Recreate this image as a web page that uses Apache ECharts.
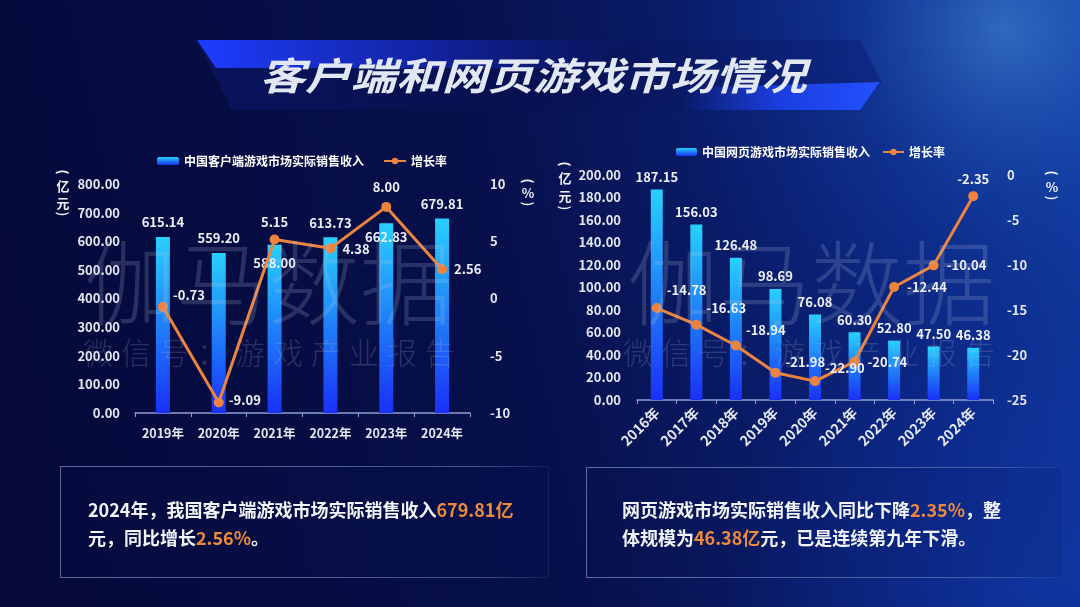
<!DOCTYPE html>
<html><head><meta charset="utf-8">
<script src="https://cdn.jsdelivr.net/npm/echarts@6/dist/echarts.min.js"></script>
<style>html,body{margin:0;padding:0;background:#050a3c;}#c{width:1080px;height:607px;}</style>
</head><body><div id="c"></div>
<script>
// ---- data ----
const clientYears = ['2019年','2020年','2021年','2022年','2023年','2024年'];
const clientRevenue = [615.14, 559.20, 588.00, 613.73, 662.83, 679.81];
const clientGrowth = [-0.73, -9.09, 5.15, 4.38, 8.00, 2.56];
const webYears = ['2016年','2017年','2018年','2019年','2020年','2021年','2022年','2023年','2024年'];
const webRevenue = [187.15, 156.03, 126.48, 98.69, 76.08, 60.30, 52.80, 47.50, 46.38];
const webGrowth = [-14.78, -16.63, -18.94, -21.98, -22.90, -20.74, -12.44, -10.04, -2.35];
const clientBarName = '中国客户端游戏市场实际销售收入';
const webBarName = '中国网页游戏市场实际销售收入';
const growthName = '增长率';

// ---- styles ----
const FONT = '"Noto Sans CJK SC","Noto Sans",sans-serif';
const ORANGE = '#ec8440';
const WHITE = '#eef1fa';
const barGrad = () => new echarts.graphic.LinearGradient(0,0,0,1,[
  {offset:0,color:'#29d0fd'},{offset:0.5,color:'#1f80f8'},{offset:1,color:'#1a30f8'}]);
const lbl = {color: WHITE, fontWeight:'bold', fontSize:13, fontFamily:FONT};

// label placement (style, not data)
const clientBarLbl = [{position:'top',distance:8},{position:'top',distance:8},{position:'insideTop',distance:12},{position:'top',distance:8},{position:'insideTop',distance:7},{position:'top',distance:8}];
const clientLineLbl = [{position:'right',offset:[0,-12]},{position:'right',offset:[0,-3]},{position:'top',distance:6},{position:'right',offset:[2,1]},{position:'top',distance:8},{position:'right',offset:[2,0]}];
const webLineLbl = [[0,-18],[0,-17],[0,-15],[0,-11],[0,-13],[3,0],[3,0],[3,0],null];

const fmt2 = v => Number(v).toFixed(2);

const chart = echarts.init(document.getElementById('c'));

// watermark sub-line chars
function subLine(x0, y){
  const s = '微信号：游戏产业报告'; const arr = [];
  for (let i=0;i<s.length;i++) arr.push({type:'text', x:x0+i*38, y:y, z:20, silent:true,
    style:{text:s[i], fontSize:30, fontFamily:FONT, fontWeight:300, fill:'rgba(185,195,225,0.20)', textAlign:'left', textVerticalAlign:'middle'}});
  return arr;
}
// vertical axis unit: rotated parens around stacked chars
function vname(x, yTop, chars, yBottom, ys){
  const st = {fontSize:13, fontWeight:'bold', fontFamily:FONT, fill:WHITE, textAlign:'center', textVerticalAlign:'middle'};
  const arr = [
    {type:'text', x:x, y:yTop, z:5, rotation:-Math.PI/2, style:Object.assign({text:'('}, st)},
    {type:'text', x:x, y:yBottom, z:5, rotation:-Math.PI/2, style:Object.assign({text:')'}, st)}
  ];
  chars.forEach((c,i)=>arr.push({type:'text', x:x, y:ys[i], z:5, style:Object.assign({text:c}, st)}));
  return arr;
}
const rich = {
  w:{fontSize:18, fontWeight:'bold', fontFamily:FONT, fill:'#f2f4fb', color:'#f2f4fb'},
  o:{fontSize:18, fontWeight:'bold', fontFamily:FONT, fill:'#ee8a3c', color:'#ee8a3c'}
};
function rtext(x,y,t){
  return {type:'text', x:x, y:y, z:5, style:{text:t, rich:rich, textAlign:'left', textVerticalAlign:'middle'}};
}

const graphics = [
  // background
  {type:'rect', z:-10, silent:true, shape:{x:0,y:0,width:1080,height:607},
    style:{fill:new echarts.graphic.LinearGradient(0,0.4,1,0,[
      {offset:0,color:'#050a3b'},{offset:0.45,color:'#07104c'},{offset:0.8,color:'#0b2680'},{offset:1,color:'#103a9e'}])}},
  {type:'rect', z:-9, silent:true, shape:{x:0,y:0,width:1080,height:607},
    style:{fill:new echarts.graphic.RadialGradient(0.93,0.05,0.55,[
      {offset:0,color:'rgba(90,170,240,0.45)'},{offset:0.5,color:'rgba(40,110,220,0.15)'},{offset:1,color:'rgba(20,60,200,0)'}])}},
  {type:'rect', z:-9, silent:true, shape:{x:0,y:0,width:1080,height:607},
    style:{fill:new echarts.graphic.RadialGradient(0.95,0.95,0.5,[
      {offset:0,color:'rgba(20,70,200,0.35)'},{offset:1,color:'rgba(20,60,200,0)'}])}},
  // title banner
  {type:'polygon', z:-5, silent:true, shape:{points:[[197,40],[860,40],[882,82],[858,110],[232,110]]},
    style:{fill:new echarts.graphic.LinearGradient(0,0,1,0,[
      {offset:0,color:'rgba(12,24,110,0.6)'},{offset:0.5,color:'rgba(8,16,80,0.4)'},{offset:1,color:'rgba(12,30,120,0.55)'}])}},
  {type:'polygon', z:-4, silent:true, shape:{points:[[197,40],[640,40],[580,68],[216,68]]},
    style:{fill:new echarts.graphic.LinearGradient(0,0,1,0,[
      {offset:0,color:'rgba(30,60,255,1)'},{offset:0.5,color:'rgba(25,50,220,0.6)'},{offset:1,color:'rgba(20,40,180,0)'}])}},
  {type:'polygon', z:-4, silent:true, shape:{points:[[680,88],[880,82],[860,110],[680,110]]},
    style:{fill:new echarts.graphic.LinearGradient(0,0,1,0,[
      {offset:0,color:'rgba(30,70,250,0)'},{offset:0.5,color:'rgba(30,70,250,0.8)'},{offset:1,color:'rgba(35,80,255,1)'}])}},
  {type:'text', x:533, y:76, z:6, scaleX:1.2, style:{text:'客户端和网页游戏市场情况', fontSize:38, fontWeight:'bold', fontStyle:'italic',
    fontFamily:FONT, fill:'#e2e7f4', textAlign:'center', textVerticalAlign:'middle', shadowBlur:6, shadowColor:'rgba(0,0,0,0.5)'}},
  // watermarks
  {type:'text', x:268, y:283, z:20, silent:true, style:{text:'伽马数据', fontSize:92, fontWeight:300, fontFamily:FONT, fill:'rgba(185,195,225,0.20)', textAlign:'center', textVerticalAlign:'middle'}},
  {type:'text', x:811, y:283, z:20, silent:true, style:{text:'伽马数据', fontSize:92, fontWeight:300, fontFamily:FONT, fill:'rgba(185,195,225,0.20)', textAlign:'center', textVerticalAlign:'middle'}},
  ...subLine(83, 353),
  ...subLine(623, 353),
  // axis unit names
  ...vname(63, 172, ['亿','元'], 214, [186, 203]),
  ...vname(528, 181, ['%'], 204, [193]),
  ...vname(565, 164, ['亿','元'], 208, [178, 196]),
  ...vname(1052, 173, ['%'], 198, [187]),
  // text boxes
  {type:'rect', z:1, shape:{x:60.5,y:466.5,width:488,height:111},
    style:{fill:'rgba(8,18,80,0.15)', stroke:new echarts.graphic.LinearGradient(0,0,1,0,[
      {offset:0,color:'rgba(150,170,220,0.6)'},{offset:0.85,color:'rgba(150,170,220,0.45)'},{offset:1,color:'rgba(150,170,220,0.1)'}]), lineWidth:1}},
  {type:'rect', z:1, shape:{x:586.5,y:467.5,width:476,height:110},
    style:{fill:'rgba(8,18,80,0.1)', stroke:new echarts.graphic.LinearGradient(0,0,1,0,[
      {offset:0,color:'rgba(150,170,220,0.6)'},{offset:0.85,color:'rgba(150,170,220,0.4)'},{offset:1,color:'rgba(150,170,220,0.05)'}]), lineWidth:1}},
  rtext(88, 510, '{w|2024年，我国客户端游戏市场实际销售收入}{o|679.81亿}'),
  rtext(88, 538, '{w|元，同比增长}{o|2.56%}{w|。}'),
  rtext(622, 510, '{w|网页游戏市场实际销售收入同比下降}{o|2.35%}{w|，整}'),
  rtext(622, 538, '{w|体规模为}{o|46.38亿}{w|元，已是连续第九年下滑。}')
];

const axisLabelStyle = {color:'#e3e7f3', fontSize:13, fontWeight:'bold', fontFamily:FONT};
const catAxisLine = {show:true, lineStyle:{color:'#8f9fd4', width:1.5}};

const option = {
  animation:false,
  textStyle:{fontFamily:FONT},
  graphic:graphics,
  legend:[
    {left:152, top:150, itemWidth:22, itemHeight:8, itemGap:19, data:[clientBarName, growthName],
      textStyle:{color:'#ffffff', fontSize:12, fontWeight:'bold', fontFamily:FONT}},
    {left:671, top:141, itemWidth:21, itemHeight:8, itemGap:12, data:[webBarName, growthName],
      textStyle:{color:'#ffffff', fontSize:12, fontWeight:'bold', fontFamily:FONT}}
  ],
  grid:[
    {left:135, right:610, top:184, bottom:194},
    {left:637, right:87, top:175, bottom:207}
  ],
  xAxis:[
    {type:'category', gridIndex:0, data:clientYears, axisLine:catAxisLine,
      axisTick:{show:true, length:4, lineStyle:{color:'#8f9fd4'}},
      axisLabel:Object.assign({}, axisLabelStyle, {margin:14, fontSize:12.5})},
    {type:'category', gridIndex:1, data:webYears, axisLine:catAxisLine,
      axisTick:{show:true, length:4, lineStyle:{color:'#8f9fd4'}},
      axisLabel:Object.assign({}, axisLabelStyle, {margin:10, rotate:45, fontSize:14})}
  ],
  yAxis:[
    {type:'value', gridIndex:0, min:0, max:800, interval:100, splitLine:{show:false},
      axisLine:{show:false}, axisTick:{show:false},
      axisLabel:Object.assign({margin:15, formatter:v=>v.toFixed(2)}, axisLabelStyle)},
    {type:'value', gridIndex:0, min:-10, max:10, interval:5, position:'right', splitLine:{show:false},
      axisLine:{show:false}, axisTick:{show:false},
      axisLabel:Object.assign({margin:20}, axisLabelStyle)},
    {type:'value', gridIndex:1, min:0, max:200, interval:20, splitLine:{show:false},
      axisLine:{show:false}, axisTick:{show:false},
      axisLabel:Object.assign({margin:16, formatter:v=>v.toFixed(2)}, axisLabelStyle)},
    {type:'value', gridIndex:1, min:-25, max:0, interval:5, position:'right', splitLine:{show:false},
      axisLine:{show:false}, axisTick:{show:false},
      axisLabel:Object.assign({margin:14}, axisLabelStyle)}
  ],
  series:[
    {name:clientBarName, type:'bar', xAxisIndex:0, yAxisIndex:0, barWidth:14, z:2,
      itemStyle:{color:barGrad()},
      data:clientRevenue.map((v,i)=>({value:v, label:Object.assign({show:true, formatter:p=>fmt2(p.value)}, lbl, clientBarLbl[i])}))},
    {name:growthName, type:'line', xAxisIndex:0, yAxisIndex:1, z:5,
      symbol:'circle', symbolSize:10, lineStyle:{color:ORANGE, width:3}, itemStyle:{color:ORANGE},
      data:clientGrowth.map((v,i)=>({value:v, label:Object.assign({show:true, formatter:p=>fmt2(p.value)}, lbl, clientLineLbl[i])}))},
    {name:webBarName, type:'bar', xAxisIndex:1, yAxisIndex:2, barWidth:12, z:2,
      itemStyle:{color:barGrad()},
      label:Object.assign({show:true, position:'top', distance:6, formatter:p=>fmt2(p.value)}, lbl),
      data:webRevenue},
    {name:growthName, type:'line', xAxisIndex:1, yAxisIndex:3, z:5,
      symbol:'circle', symbolSize:10, lineStyle:{color:ORANGE, width:3}, itemStyle:{color:ORANGE},
      data:webGrowth.map((v,i)=>({value:v, label:Object.assign({show:true, formatter:p=>fmt2(p.value)}, lbl,
        webLineLbl[i] ? {position:'right', offset:webLineLbl[i]} : {position:'top', distance:6})}))}
  ]
};
chart.setOption(option);
</script>
</body></html>
